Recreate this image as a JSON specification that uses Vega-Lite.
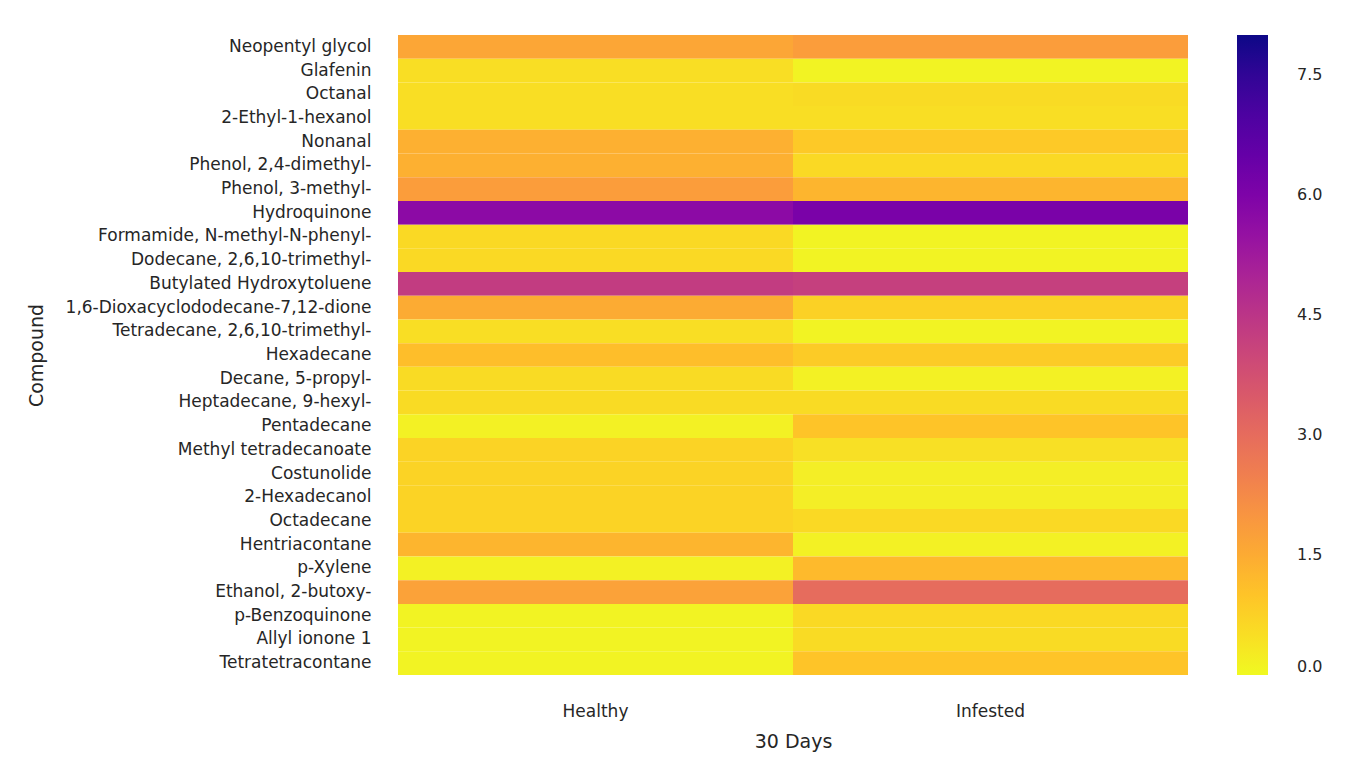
{
  "$schema": "https://vega.github.io/schema/vega-lite/v6.json",
  "autosize": {"type": "none"},
  "width": 790,
  "height": 640,
  "padding": {"left": 398, "top": 35, "right": 159, "bottom": 92},
  "background": "white",
  "config": {
    "font": "DejaVu Sans",
    "view": {"stroke": null},
    "axis": {"labelColor": "#262626", "titleColor": "#262626", "labelFontSize": 17, "titleFontSize": 19, "titleFontWeight": "normal", "domain": false, "ticks": false, "grid": false, "labelLimit": 400},
    "legend": {"labelColor": "#262626", "labelFontSize": 16}
  },
  "data": {
    "values": [
      {"Compound": "Neopentyl glycol", "Condition": "Healthy", "value": 1.6},
      {"Compound": "Neopentyl glycol", "Condition": "Infested", "value": 1.8},
      {"Compound": "Glafenin", "Condition": "Healthy", "value": 0.5},
      {"Compound": "Glafenin", "Condition": "Infested", "value": 0.1},
      {"Compound": "Octanal", "Condition": "Healthy", "value": 0.5},
      {"Compound": "Octanal", "Condition": "Infested", "value": 0.55},
      {"Compound": "2-Ethyl-1-hexanol", "Condition": "Healthy", "value": 0.5},
      {"Compound": "2-Ethyl-1-hexanol", "Condition": "Infested", "value": 0.5},
      {"Compound": "Nonanal", "Condition": "Healthy", "value": 1.4},
      {"Compound": "Nonanal", "Condition": "Infested", "value": 0.9},
      {"Compound": "Phenol, 2,4-dimethyl-", "Condition": "Healthy", "value": 1.4},
      {"Compound": "Phenol, 2,4-dimethyl-", "Condition": "Infested", "value": 0.6},
      {"Compound": "Phenol, 3-methyl-", "Condition": "Healthy", "value": 1.8},
      {"Compound": "Phenol, 3-methyl-", "Condition": "Infested", "value": 1.3},
      {"Compound": "Hydroquinone", "Condition": "Healthy", "value": 5.7},
      {"Compound": "Hydroquinone", "Condition": "Infested", "value": 6.1},
      {"Compound": "Formamide, N-methyl-N-phenyl-", "Condition": "Healthy", "value": 0.6},
      {"Compound": "Formamide, N-methyl-N-phenyl-", "Condition": "Infested", "value": 0.1},
      {"Compound": "Dodecane, 2,6,10-trimethyl-", "Condition": "Healthy", "value": 0.6},
      {"Compound": "Dodecane, 2,6,10-trimethyl-", "Condition": "Infested", "value": 0.1},
      {"Compound": "Butylated Hydroxytoluene", "Condition": "Healthy", "value": 4.3},
      {"Compound": "Butylated Hydroxytoluene", "Condition": "Infested", "value": 4.2},
      {"Compound": "1,6-Dioxacyclododecane-7,12-dione", "Condition": "Healthy", "value": 1.5},
      {"Compound": "1,6-Dioxacyclododecane-7,12-dione", "Condition": "Infested", "value": 0.75},
      {"Compound": "Tetradecane, 2,6,10-trimethyl-", "Condition": "Healthy", "value": 0.5},
      {"Compound": "Tetradecane, 2,6,10-trimethyl-", "Condition": "Infested", "value": 0.1},
      {"Compound": "Hexadecane", "Condition": "Healthy", "value": 1.1},
      {"Compound": "Hexadecane", "Condition": "Infested", "value": 0.85},
      {"Compound": "Decane, 5-propyl-", "Condition": "Healthy", "value": 0.55},
      {"Compound": "Decane, 5-propyl-", "Condition": "Infested", "value": 0.15},
      {"Compound": "Heptadecane, 9-hexyl-", "Condition": "Healthy", "value": 0.55},
      {"Compound": "Heptadecane, 9-hexyl-", "Condition": "Infested", "value": 0.55},
      {"Compound": "Pentadecane", "Condition": "Healthy", "value": 0.15},
      {"Compound": "Pentadecane", "Condition": "Infested", "value": 1.0},
      {"Compound": "Methyl tetradecanoate", "Condition": "Healthy", "value": 0.7},
      {"Compound": "Methyl tetradecanoate", "Condition": "Infested", "value": 0.45},
      {"Compound": "Costunolide", "Condition": "Healthy", "value": 0.7},
      {"Compound": "Costunolide", "Condition": "Infested", "value": 0.2},
      {"Compound": "2-Hexadecanol", "Condition": "Healthy", "value": 0.7},
      {"Compound": "2-Hexadecanol", "Condition": "Infested", "value": 0.2},
      {"Compound": "Octadecane", "Condition": "Healthy", "value": 0.7},
      {"Compound": "Octadecane", "Condition": "Infested", "value": 0.6},
      {"Compound": "Hentriacontane", "Condition": "Healthy", "value": 1.3},
      {"Compound": "Hentriacontane", "Condition": "Infested", "value": 0.15},
      {"Compound": "p-Xylene", "Condition": "Healthy", "value": 0.15},
      {"Compound": "p-Xylene", "Condition": "Infested", "value": 1.2},
      {"Compound": "Ethanol, 2-butoxy-", "Condition": "Healthy", "value": 1.7},
      {"Compound": "Ethanol, 2-butoxy-", "Condition": "Infested", "value": 3.0},
      {"Compound": "p-Benzoquinone", "Condition": "Healthy", "value": 0.1},
      {"Compound": "p-Benzoquinone", "Condition": "Infested", "value": 0.6},
      {"Compound": "Allyl ionone 1", "Condition": "Healthy", "value": 0.1},
      {"Compound": "Allyl ionone 1", "Condition": "Infested", "value": 0.55},
      {"Compound": "Tetratetracontane", "Condition": "Healthy", "value": 0.1},
      {"Compound": "Tetratetracontane", "Condition": "Infested", "value": 1.0}
    ]
  },
  "mark": {"type": "rect"},
  "encoding": {
    "x": {"field": "Condition", "type": "nominal", "title": "30 Days", "scale": {"paddingInner": 0, "paddingOuter": 0},
      "axis": {"labelAngle": 0, "labelPadding": 28, "titlePadding": 13}},
    "y": {"field": "Compound", "type": "nominal", "sort": null, "title": "Compound", "scale": {"paddingInner": 0, "paddingOuter": 0},
      "axis": {"labelPadding": 27, "titleX": -352, "titleY": 320, "titleAngle": -90, "titleBaseline": "bottom", "titleAlign": "center"}},
    "color": {"field": "value", "type": "quantitative",
      "scale": {"scheme": "plasma", "reverse": true, "domain": [0, 8]},
      "legend": {"orient": "none", "legendX": 839, "legendY": 0, "title": null, "direction": "vertical",
        "gradientLength": 640, "gradientThickness": 31, "values": [0, 1.5, 3, 4.5, 6, 7.5], "format": ".1f",
        "labelOffset": 29, "gradientStrokeWidth": 0}
    }
  }
}
